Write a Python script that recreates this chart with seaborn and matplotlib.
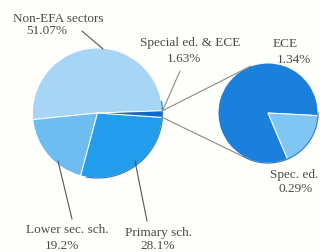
import numpy as np
import matplotlib
matplotlib.use("Agg")
import matplotlib.pyplot as plt
import seaborn as sns

# Data
main_labels = ["Non-EFA sectors", "Lower sec. sch.", "Primary sch.", "Special ed. & ECE"]
main_values = [51.07, 19.2, 28.1, 1.63]
sub_labels = ["ECE", "Spec. ed."]
sub_values = [1.34, 0.29]

sns.set_theme(style="white")
plt.rcParams['font.family'] = ['Liberation Serif', 'DejaVu Serif']

main_colors = ["#a7d5f5", "#6dbdf1", "#229cec", "#1468c4"]
sub_colors = ["#1a80dc", "#80c6f4"]

fig = plt.figure(figsize=(3.2, 2.53), dpi=100)
fig.patch.set_facecolor("#fefefb")
ax = fig.add_axes([0, 0, 1, 1])

mc = (97.5, 139)
mr = 65
sc = (268, 139)
sr = 50
start_main = 2
start_sub = -3

ax.pie(main_values, colors=main_colors, startangle=start_main, counterclock=True,
       center=mc, radius=mr, frame=True,
       wedgeprops=dict(edgecolor="white", linewidth=0.7))
ax.pie(sub_values, colors=sub_colors, startangle=start_sub, counterclock=True,
       center=sc, radius=sr, frame=True,
       wedgeprops=dict(edgecolor="white", linewidth=0.7))
ax.set_xlim(0, 320)
ax.set_ylim(0, 253)
ax.set_aspect("equal")
ax.axis("off")

# outline on lower right of pies
th = np.linspace(np.deg2rad(-100), np.deg2rad(10), 100)
ax.plot(mc[0] + mr * np.cos(th), mc[1] + mr * np.sin(th), color="#2f7fc8", lw=0.9)
th2 = np.linspace(np.deg2rad(-120), np.deg2rad(0), 100)
ax.plot(sc[0] + sr * np.cos(th2), sc[1] + sr * np.sin(th2), color="#2f7fc8", lw=0.9)

# connection lines
total = sum(main_values)
a_end = np.deg2rad(start_main + 360)
a_beg = np.deg2rad(start_main + 360 - 360 * main_values[3] / total)
p1 = (mc[0] + mr * np.cos(a_end), mc[1] + mr * np.sin(a_end))
p2 = (mc[0] + mr * np.cos(a_beg), mc[1] + mr * np.sin(a_beg))
q1 = (sc[0] + sr * np.cos(np.deg2rad(110)), sc[1] + sr * np.sin(np.deg2rad(110)))
q2 = (sc[0] + sr * np.cos(np.deg2rad(244)), sc[1] + sr * np.sin(np.deg2rad(244)))
lc = "#8a8a86"
ax.plot([p1[0], q1[0]], [p1[1], q1[1]], color=lc, lw=0.8)
ax.plot([p2[0], q2[0]], [p2[1], q2[1]], color=lc, lw=0.8)

# leader lines
ax.plot([82, 103], [221, 203], color="#555555", lw=0.8)
ax.plot([180, 162], [181, 140], color=lc, lw=0.8)
ax.plot([58, 72], [91, 33], color="#555555", lw=0.8)
ax.plot([135, 147], [91, 31], color="#555555", lw=0.8)

tc = "#4a4a4a"
fs = 9.5
def t(x, y, s, ha="center"):
    ax.text(x, y, s, ha=ha, va="center", fontsize=fs, color=tc)

t(58, 234.5, main_labels[0])
t(47, 222, f"{main_values[0]:.2f}%")
t(190, 210, "Special ed. & ECE")
t(184, 194, f"{main_values[3]:.2f}%")
t(285, 209, sub_labels[0])
t(294, 193, f"{sub_values[0]:.2f}%")
t(318, 78, sub_labels[1], ha="right")
t(296, 64, f"{sub_values[1]:.2f}%")
t(67, 23, main_labels[1])
t(62, 7, f"{main_values[1]:.1f}%")
t(159, 20, main_labels[2])
t(158, 7, f"{main_values[2]:.1f}%")

fig.savefig("out.png", dpi=100, facecolor=fig.get_facecolor())
